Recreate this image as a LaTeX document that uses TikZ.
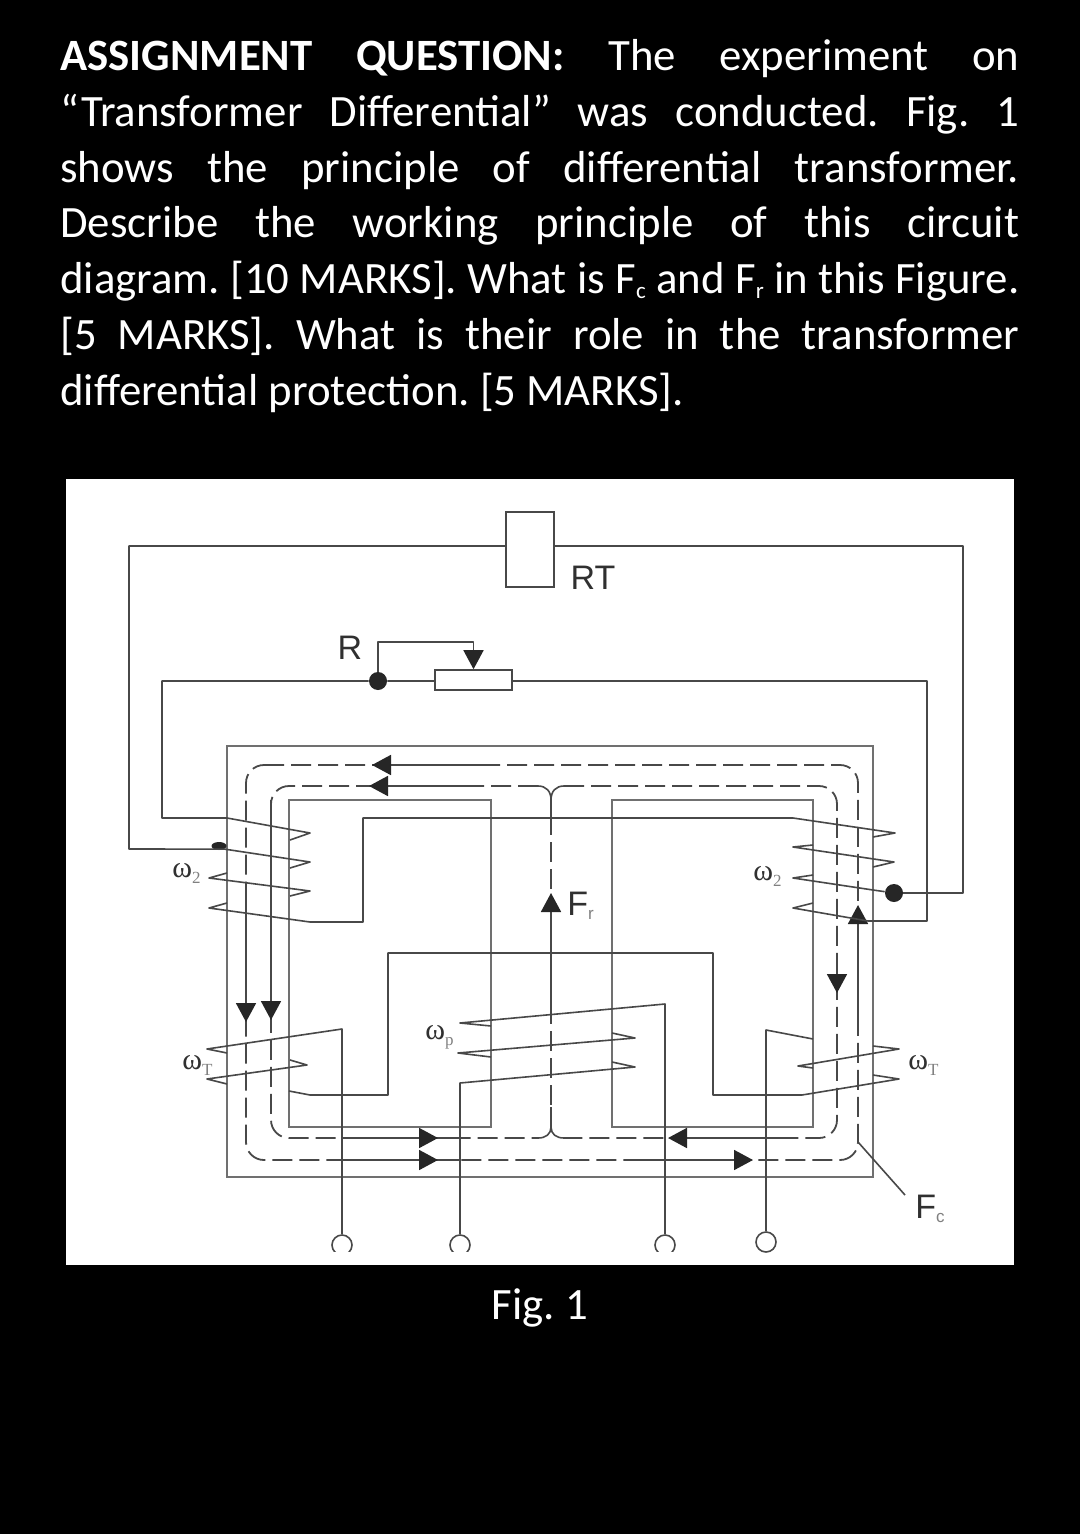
\documentclass[tikz,border=0pt]{standalone}
\usepackage{fontspec}
\setmainfont{Carlito}
\newfontfamily\labelfont{Liberation Sans}
\newfontfamily\coilfont{Liberation Serif}
\usetikzlibrary{arrows.meta,shapes.geometric}
\definecolor{wirecol}{HTML}{484848}
\definecolor{corecol}{HTML}{707070}
\definecolor{labelcol}{HTML}{303030}
\newcommand{\lowsub}[2]{\textcolor{gray}{\raisebox{#1}{\fontsize{8.5}{9}\selectfont #2}}}
\newcommand{\textsub}[1]{\raisebox{-2.5pt}{\fontsize{11.5}{12}\selectfont #1}}
\tikzset{
 wire/.style={draw=wirecol,line width=0.8pt,line join=round},
 core/.style={draw=corecol,line width=1pt},
 fluxdash/.style={draw=wirecol,line width=0.9pt,dash pattern=on 10pt off 3.5pt,rounded corners=9pt},
 fluxtip/.style={draw=wirecol,line width=0.9pt,-{Triangle[width=10pt,length=9.5pt,color=black!85]}},
 dotnode/.style={circle,fill=black!85,inner sep=0pt,minimum size=9pt},
 boxnode/.style={draw=wirecol,line width=0.8pt,fill=white,inner sep=0pt},
 terminal/.style={circle,draw=wirecol,line width=0.8pt,fill=white,inner sep=0pt,minimum size=10pt},
 signlabel/.style={text=labelcol,inner sep=0pt,font=\labelfont\fontsize{17}{18}\selectfont},
 coillabel/.style={text=labelcol,inner sep=0pt,anchor=west,font=\coilfont\fontsize{15}{16}\selectfont}
}
\begin{document}
\frenchspacing
\begin{tikzpicture}[x=0.5pt,y=-0.5pt]
\useasboundingbox (0,0) rectangle (1080,1534);
\fill[black] (0,0) rectangle (1080,1534);
\node[anchor=north west,text=white,text width=479.5pt,align=justify,inner sep=0pt,
 font=\fontsize{22.4}{27.9}\selectfont] (question) at (60,39) {\textbf{ASSIGNMENT QUESTION:} The experiment on\linebreak
 “Transformer Differential” was conducted. Fig. 1\linebreak
 shows the principle of differential transformer.\linebreak
 Describe the working principle of this circuit\linebreak
 diagram. {[}10 MARKS]. What is F\textsub{c} and F\textsub{r} in this Figure.\linebreak
 {[}5 MARKS]. What is their role in the transformer\linebreak
 differential protection. {[}5 MARKS].\par};
\fill[white] (66,479) rectangle (1014,1265);
\node[text=white,inner sep=0pt,font=\fontsize{22.4}{24}\selectfont] (figcap) at (540,1308) {Fig. 1};
\draw[core] (227,746) rectangle (873,1177);
\draw[core] (289,800) rectangle (491,1127);
\draw[core] (612,800) rectangle (813,1127);
\draw[fluxdash] (246,765) -- (858,765) -- (858,1160) -- (246,1160) -- cycle;
\draw[fluxdash] (538,786) -- (271,786) -- (271,1138) -- (538,1138);
\draw[fluxdash] (564,786) -- (837,786) -- (837,1138) -- (564,1138);
\draw[fluxdash] (551,815) -- (551,1107);
\draw[wire] (538,786) .. controls (546,786) and (551,791) .. (551,800)
 .. controls (551,791) and (556,786) .. (564,786);
\draw[wire] (538,1138) .. controls (546,1138) and (551,1134) .. (551,1127)
 .. controls (551,1134) and (556,1138) .. (564,1138);
\draw[wire] (551,800) -- (551,815) (551,1107) -- (551,1127);
\draw[fluxtip] (480,765) -- (372,765);
\draw[fluxtip] (480,786) -- (369,786);
\draw[fluxtip] (246,895) -- (246,1022);
\draw[fluxtip] (271,800) -- (271,1020);
\draw[fluxtip] (551,1012) -- (551,893);
\draw[fluxtip] (858,1035) -- (858,905);
\draw[fluxtip] (837,960) -- (837,993);
\draw[fluxtip] (343,1138) -- (438,1138);
\draw[fluxtip] (343,1160) -- (438,1160);
\draw[wire] (438,1138) -- (460,1138) (438,1160) -- (460,1160);
\draw[fluxtip] (780,1138) -- (668,1138);
\draw[fluxtip] (637,1160) -- (753,1160);
\node[boxnode,minimum width=24pt,minimum height=37.5pt] (RT) at (530,549.5) {};
\node[signlabel] (RTlabel) at (593,578) {RT};
\node[signlabel] (Rlabel) at (350,648) {R};
\node[boxnode,minimum width=38.5pt,minimum height=10pt] (rheo) at (473.5,680) {};
\node[dotnode] (dotR) at (378,681) {};
\node[dotnode] (dotOut) at (894,893) {};
\node[ellipse,fill=black!85,inner sep=0pt,minimum width=7.5pt,minimum height=4pt] (dotLeft) at (219,846) {};
\draw[wire] (RT.west |- 0,546) -- (129,546) -- (129,849) -- (dotLeft.south east)
 -- (310,862) -- (290,868);
\draw[wire] (RT.east |- 0,546) -- (963,546) -- (963,893) -- (dotOut);
\draw[wire] (rheo.west |- 0,681) -- (dotR) -- (162,681) -- (162,818) -- (227,818)
 -- (310,833) -- (290,840);
\draw[wire] (rheo.east |- 0,681) -- (927,681) -- (927,921) -- (868,921) -- (793,908)
 -- (813,903);
\draw[wire,-{Triangle[width=10pt,length=9.5pt,color=black!85]}] (dotR) |- (rheo.north |- 0,642) -- (rheo.north);
\draw[wire] (227,873) -- (209,878) -- (310,891) -- (290,896);
\draw[wire] (227,903) -- (209,908) -- (310,922) -- (363,922) -- (363,818) -- (793,818)
 -- (895,833) -- (873,837);
\draw[wire] (813,845) -- (793,847) -- (894,862) -- (873,867);
\draw[wire] (813,875) -- (793,878) -- (873,890) -- (dotOut);
\node[terminal] (termA) at (342,1245) {};
\node[terminal] (termB) at (460,1245) {};
\node[terminal] (termC) at (665,1245) {};
\node[terminal] (termD) at (766,1242) {};
\draw[wire] (termA) -- (342,1029) -- (207,1049) -- (227,1053);
\draw[wire] (227,1084) -- (207,1079) -- (307,1065) -- (290,1060);
\draw[wire] (289,1091) -- (310,1095) -- (388,1095) -- (388,953) -- (713,953) -- (713,1095)
 -- (802,1095) -- (899,1079) -- (873,1075);
\draw[wire] (termD) -- (766,1030) -- (813,1039);
\draw[wire] (813,1068) -- (798,1066) -- (899,1049) -- (873,1046);
\draw[wire] (491,1026) -- (460,1023) -- (665,1004) -- (termC);
\draw[wire] (491,1057) -- (458,1053) -- (635,1038) -- (612,1033);
\draw[wire] (termB) -- (460,1083) -- (635,1067) -- (612,1062);
\fill[white] (320,1252) rectangle (690,1265);
\draw[wire] (858,1142) -- (905,1195);
\node[coillabel] (omegaTwoL) at (172,873) {ω\lowsub{-3pt}{2}};
\node[coillabel] (omegaTwoR) at (753,876) {ω\lowsub{-3pt}{2}};
\node[coillabel] (omegaTL) at (182,1065) {ω\lowsub{-3pt}{T}};
\node[coillabel] (omegaTR) at (908,1065) {ω\lowsub{-3pt}{T}};
\node[coillabel] (omegaP) at (425,1037) {ω\lowsub{-3pt}{p}};
\node[signlabel,anchor=west] (Fr) at (567,906) {F\lowsub{-2pt}{r}};
\node[signlabel,anchor=west] (Fc) at (915,1209) {F\lowsub{-2pt}{c}};
\end{tikzpicture}
\end{document}
